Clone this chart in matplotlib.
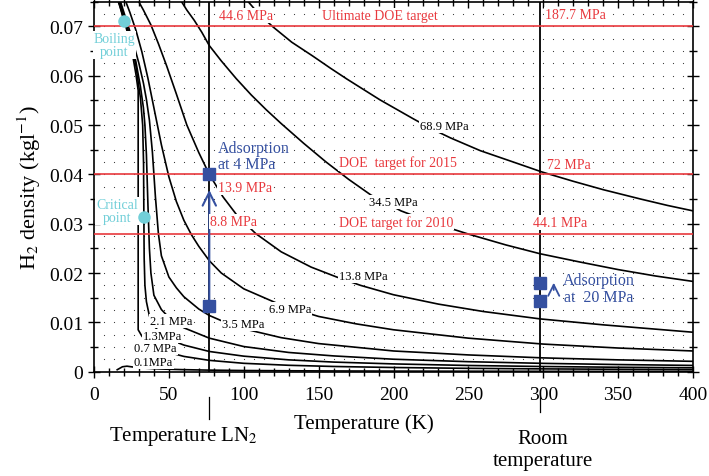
import numpy as np
import matplotlib
matplotlib.use('Agg')
import matplotlib.pyplot as plt
import matplotlib.transforms as mtransforms

plt.rcParams['font.family'] = ['Liberation Serif', 'DejaVu Serif']
plt.rcParams['mathtext.fontset'] = 'stix'

# isobars: temperature (K) and density (kg/l)
p01_liq_T = [16.0, 17, 18, 19, 20.3]
p01_liq_rho = [0.0752, 0.0743, 0.0733, 0.0722, 0.0709]
p01_T = [15.5, 19, 22, 26, 30, 35, 40, 50, 60, 77, 100, 130, 160, 200, 250, 300, 350, 400]
p01_rho = [0.0004, 0.0010, 0.00112, 0.00095, 0.00082, 0.0007, 0.00061, 0.00049, 0.00041,
           0.00032, 0.00024, 0.00019, 0.00015, 0.00012, 0.0001, 0.00008, 0.00007, 0.00006]

p07_T = [16.3, 20, 23, 26, 28, 29.5, 29.5, 32, 35, 40, 50, 60, 77, 100, 130, 160, 200, 250, 300, 350, 400]
p07_rho = [0.0752, 0.0714, 0.0680, 0.0638, 0.0603, 0.0570, 0.0085, 0.0072, 0.0062, 0.0051, 0.0039,
           0.0031, 0.0023, 0.0017, 0.0013, 0.00106, 0.00085, 0.00068, 0.00057, 0.00049, 0.00042]

p13_T = [16.5, 20, 24, 28, 31, 32.5, 33.1, 33.3, 33.5, 34, 35, 37, 40, 45, 50, 60, 77, 100, 130,
         160, 200, 250, 300, 350, 400]
p13_rho = [0.0752, 0.0718, 0.0676, 0.0620, 0.0555, 0.0500, 0.0420, 0.0313, 0.0230, 0.0175, 0.0142,
           0.0113, 0.0093, 0.0076, 0.0066, 0.0054, 0.0041, 0.00315, 0.0024, 0.00195, 0.00158,
           0.00126, 0.00105, 0.0009, 0.00079]

p21_T = [17, 20, 24, 28, 31, 33, 34, 35, 36, 37, 38, 40, 45, 50, 60, 77, 100, 130, 160, 200, 250,
         300, 350, 400]
p21_rho = [0.0752, 0.0722, 0.0680, 0.0628, 0.0578, 0.0535, 0.0500, 0.0440, 0.0340, 0.0250, 0.0200,
           0.0155, 0.0126, 0.0110, 0.0089, 0.0068, 0.0051, 0.0039, 0.0032, 0.00253, 0.00203,
           0.00169, 0.00145, 0.00127]

p35_T = [17.5, 20, 25, 30, 33, 35, 37, 39, 41, 43, 45, 50, 55, 60, 70, 77, 90, 100, 125, 150, 200,
         250, 300, 350, 400]
p35_rho = [0.0752, 0.0728, 0.0680, 0.0625, 0.0585, 0.0552, 0.0510, 0.0445, 0.0355, 0.0280, 0.0235,
           0.0192, 0.0170, 0.0152, 0.0127, 0.0114, 0.0097, 0.0087, 0.0069, 0.0057, 0.0042, 0.0034,
           0.0028, 0.0024, 0.0021]

p69_T = [21, 24, 28, 32, 36, 40, 45, 50, 55, 60, 65, 70, 77, 85, 100, 125, 150, 175, 200, 250,
         300, 350, 400]
p69_rho = [0.0752, 0.0728, 0.0692, 0.0648, 0.0595, 0.0535, 0.0460, 0.0395, 0.0345, 0.0307, 0.0278,
           0.0254, 0.0225, 0.0200, 0.0168, 0.0135, 0.0112, 0.0097, 0.0085, 0.0068, 0.0056, 0.0048,
           0.0042]

p138_T = [29, 33, 38, 43, 48.5, 55, 62, 70, 77, 86, 96, 108, 125, 145, 162, 178, 200, 230, 260,
          298, 340, 400]
p138_rho = [0.0755, 0.0733, 0.0703, 0.0665, 0.0620, 0.0563, 0.0500, 0.0444, 0.0400, 0.0355, 0.0315,
            0.0280, 0.0243, 0.0212, 0.0192, 0.0175, 0.0156, 0.0137, 0.0122, 0.0107, 0.0095, 0.0080]

p345_T = [57, 62, 67, 72, 77, 85, 95, 105, 115, 125, 140, 155, 170, 185, 205, 225, 250, 275, 298,
          325, 350, 375, 400]
p345_rho = [0.0757, 0.0733, 0.0712, 0.0688, 0.0661, 0.0630, 0.0594, 0.0561, 0.0531, 0.0503, 0.0463,
            0.0425, 0.0390, 0.0358, 0.0326, 0.0303, 0.0279, 0.0257, 0.0239, 0.0222, 0.0207, 0.0194,
            0.0183]

p689_T = [101, 109.5, 119.5, 132, 146, 158, 169, 180, 191, 202, 213, 225, 238, 258, 280, 299, 320,
          340, 365, 383, 400]
p689_rho = [0.0757, 0.0727, 0.0699, 0.0668, 0.0640, 0.0615, 0.0593, 0.0572, 0.0551, 0.0532, 0.0513,
            0.0493, 0.0474, 0.0448, 0.0425, 0.0405, 0.0386, 0.0369, 0.0350, 0.0337, 0.0326]

# curve labels (text, T, rho)
curve_labels = ['68.9 MPa', '34.5 MPa', '13.8 MPa', '6.9 MPa', '3.5 MPa', '2.1 MPa', '1.3MPa',
                '0.7 MPa', '0.1MPa']
curve_label_T = [234, 200, 180, 131, 99.5, 51.5, 45.5, 41, 39.5]
curve_label_rho = [0.0498, 0.0344, 0.0194, 0.0127, 0.0097, 0.0103, 0.0072, 0.0048, 0.0020]

# DOE targets
target_rho = [0.07, 0.04, 0.028]
target_names = ['Ultimate DOE target', 'DOE  target for 2015', 'DOE target for 2010']
target_p_77 = ['44.6 MPa', '13.9 MPa', '8.8 MPa']
target_p_298 = ['187.7 MPa', '72 MPa', '44.1 MPa']

T_ln2 = 77
T_room = 298
ads4_rho = [0.0133, 0.0400]
ads20_rho = [0.0144, 0.0180]
boiling = (20.3, 0.0711)
critical = (33.2, 0.0313)

red = '#e8383d'
blue = '#3550a0'
cyan = '#72cfd8'

fig = plt.figure(figsize=(7.09, 4.77), dpi=100)
ax = fig.add_axes([94 / 709, 1 - 372.7 / 477, 599 / 709, 370 / 477])
ax.set_xlim(0, 400)
ax.set_ylim(0, 0.075)

# dotted background
gx, gy = np.meshgrid(np.arange(20 / 3, 400, 20 / 3), np.arange(0.0025, 0.075, 0.0025))
ax.scatter(gx.ravel(), gy.ravel(), s=0.7, c='#333333', lw=0, zorder=1)

for T, r in [(p01_liq_T, p01_liq_rho), (p01_T, p01_rho), (p07_T, p07_rho), (p13_T, p13_rho),
             (p21_T, p21_rho), (p35_T, p35_rho), (p69_T, p69_rho), (p138_T, p138_rho),
             (p345_T, p345_rho), (p689_T, p689_rho)]:
    ax.plot(T, r, color='black', lw=1.2, zorder=2)

ax.axvline(T_ln2, color='black', lw=1.3, zorder=2)
ax.axvline(T_room, color='black', lw=1.3, zorder=2)
for r in target_rho:
    ax.axhline(r, color=red, lw=1.2, zorder=3)

box = dict(boxstyle='square,pad=0.08', fc='white', ec='none')

for s, t, r in zip(curve_labels, curve_label_T, curve_label_rho):
    ax.text(t, r, s, fontsize=9, ha='center', va='center', bbox=box, zorder=6)

ax.text(191, 0.0722, target_names[0], color=red, fontsize=10, ha='center', va='center', bbox=box, zorder=6)
ax.text(203, 0.0424, target_names[1], color=red, fontsize=10, ha='center', va='center', bbox=box, zorder=6)
ax.text(201.5, 0.0303, target_names[2], color=red, fontsize=10, ha='center', va='center', bbox=box, zorder=6)
ax.text(83.5, 0.0722, target_p_77[0], color=red, fontsize=10, ha='left', va='center', bbox=box, zorder=6)
ax.text(82.8, 0.0374, target_p_77[1], color=red, fontsize=10, ha='left', va='center', bbox=box, zorder=6)
ax.text(77.5, 0.0304, target_p_77[2], color=red, fontsize=10, ha='left', va='center', bbox=box, zorder=6)
ax.text(301.5, 0.0724, target_p_298[0], color=red, fontsize=10, ha='left', va='center', bbox=box, zorder=6)
ax.text(302.5, 0.0421, target_p_298[1], color=red, fontsize=10, ha='left', va='center', bbox=box, zorder=6)
ax.text(293, 0.0303, target_p_298[2], color=red, fontsize=10, ha='left', va='center', bbox=box, zorder=6)

# adsorption points
ax.plot([T_ln2, T_ln2], ads4_rho, 's', color=blue, ms=8, zorder=7)
ax.plot([T_room, T_room], ads20_rho, 's', color=blue, ms=8, zorder=7)
ax.annotate('', xy=(T_ln2, 0.0374), xytext=(T_ln2, ads4_rho[0]),
            arrowprops=dict(arrowstyle='->', color=blue, lw=1.5, mutation_scale=24), zorder=5)
ax.annotate('', xy=(307, 0.0186), xytext=(307, 0.0160),
            arrowprops=dict(arrowstyle='->', color=blue, lw=1.3, mutation_scale=20), zorder=5)
ax.text(82.8, 0.0438, 'Adsorption\nat 4 MPa', color=blue, fontsize=11.5, ha='left', va='center',
        linespacing=1.0, zorder=6)
ax.text(337, 0.0168, 'Adsorption\nat  20 MPa', color=blue, fontsize=11.5, ha='center', va='center',
        linespacing=1.1, zorder=6)

# boiling and critical points
ax.plot(*boiling, 'o', color=cyan, ms=8, zorder=7)
ax.plot(*critical, 'o', color=cyan, ms=8, zorder=7)
ax.text(13.7, 0.0662, 'Boiling\npoint', color=cyan, fontsize=10, ha='center', va='center',
        linespacing=1.0, bbox=box, zorder=6)
ax.text(15.4, 0.0326, 'Critical\npoint', color=cyan, fontsize=10, ha='center', va='center',
        linespacing=1.0, bbox=box, zorder=6)

# axes and ticks
ax.set_xticks(np.arange(0, 401, 50))
ax.set_xticks(np.arange(0, 401, 10), minor=True)
ax.set_yticks(np.arange(0, 0.0701, 0.01))
ax.set_yticks(np.arange(0, 0.0751, 0.005), minor=True)
ax.set_yticklabels(['0'] + ['%.2f' % v for v in np.arange(0.01, 0.0701, 0.01)])
ax.tick_params(which='both', direction='inout', top=True, right=True, labelsize=14, width=1)
ax.tick_params(which='major', length=9)
ax.tick_params(which='minor', length=6)
ax.tick_params(axis='x', pad=6)
for s in ax.spines.values():
    s.set_linewidth(1.2)

ax.set_ylabel(r'H$_2$ density (kgl$^{-1}$)', fontsize=16, labelpad=4)

trans = mtransforms.blended_transform_factory(ax.transData, ax.transAxes)
ax.text(180, -0.14, 'Temperature (K)', fontsize=15, ha='center', va='center', transform=trans)
ax.plot([T_ln2, T_ln2], [-0.068, -0.128], color='black', lw=0.9, transform=trans, clip_on=False)
ax.text(60, -0.173, r'Temperature LN$_2$', fontsize=15, ha='center', va='center', transform=trans)
ax.plot([T_room, T_room], [-0.068, -0.11], color='black', lw=0.9, transform=trans, clip_on=False)
ax.text(300, -0.21, 'Room\ntemperature', fontsize=15, ha='center', va='center', linespacing=1.25,
        transform=trans)

fig.savefig('out.png', dpi=100)
